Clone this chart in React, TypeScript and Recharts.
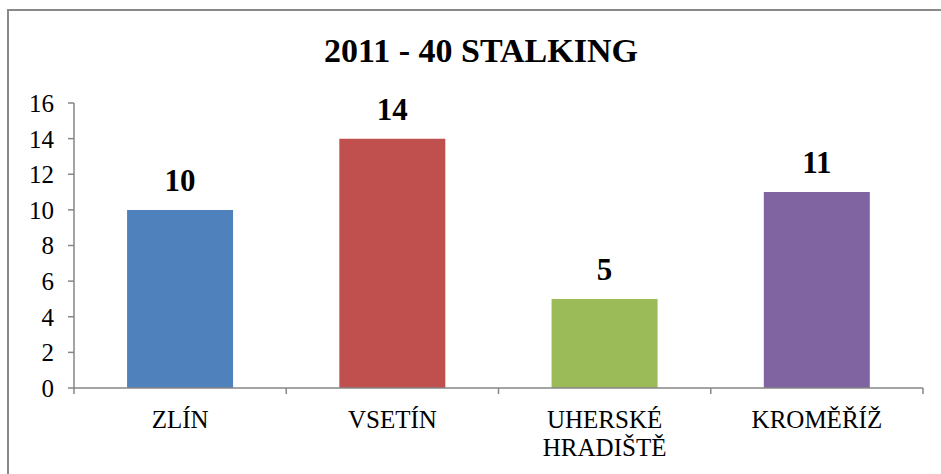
import React from "react";
import { BarChart, Bar, XAxis, YAxis, Cell, LabelList } from "recharts";

const categories = ["ZLÍN", "VSETÍN", "UHERSKÉ HRADIŠTĚ", "KROMĚŘÍŽ"];
const values = [10, 14, 5, 11];
const colors = ["#4F81BD", "#C0504D", "#9BBB59", "#8064A2"];
const yTicks = [0, 2, 4, 6, 8, 10, 12, 14, 16];
const title = "2011 - 40 STALKING";

const data = categories.map((name, i) => ({ name, value: values[i] }));

const FONT = "Liberation Serif, Tinos, Times New Roman, serif";
const AXIS = "#868686";
const TICK_SIZE = 6;
const TICK_MARGIN = 8;

const CategoryTick = (props: any) => {
  const { x, y, payload, index, visibleTicksCount } = props;
  const half = payload && payload.offset ? payload.offset : 106;
  const axisY = y - TICK_SIZE - TICK_MARGIN;
  const words = String(payload.value).split(" ");
  const isLast = index === visibleTicksCount - 1;
  return (
    <g>
      <line x1={x - half} y1={axisY} x2={x - half} y2={axisY + TICK_SIZE} stroke={AXIS} strokeWidth={1.5} />
      {isLast && (
        <line x1={x + half} y1={axisY} x2={x + half} y2={axisY + TICK_SIZE} stroke={AXIS} strokeWidth={1.5} />
      )}
      <text x={x} y={y} textAnchor="middle" fill="#000" fontFamily={FONT} fontSize={25}>
        {words.map((w, i) => (
          <tspan key={i} x={x} dy={i === 0 ? 26 : 28}>
            {w}
          </tspan>
        ))}
      </text>
    </g>
  );
};

export default function App() {
  return (
    <div style={{ position: "fixed", left: 0, top: 0, width: 941, height: 474, overflow: "hidden", background: "#fff" }}>
      <div
        style={{
          position: "absolute",
          left: 7,
          top: 9,
          width: 960,
          height: 500,
          border: "2px solid #898989",
          boxSizing: "border-box",
        }}
      />
      <div style={{ position: "absolute", left: 0, top: 0 }}>
        <BarChart
          width={941}
          height={474}
          data={data}
          margin={{ top: 103, right: 18, left: 14, bottom: 0 }}
          barCategoryGap="25%"
        >
          <XAxis
            dataKey="name"
            height={86}
            axisLine={{ stroke: AXIS, strokeWidth: 1.5 }}
            tickLine={false}
            tickSize={TICK_SIZE}
            tickMargin={TICK_MARGIN}
            tick={<CategoryTick />}
            interval={0}
          />
          <YAxis
            width={60}
            domain={[0, 16]}
            ticks={yTicks}
            interval={0}
            axisLine={{ stroke: AXIS, strokeWidth: 1.5 }}
            tickLine={{ stroke: AXIS, strokeWidth: 1.5 }}
            tickSize={6}
            tickMargin={14}
            tick={{ fill: "#000", fontFamily: FONT, fontSize: 25 }}
          />
          <Bar dataKey="value" isAnimationActive={false}>
            {data.map((d, i) => (
              <Cell key={d.name} fill={colors[i]} />
            ))}
            <LabelList
              dataKey="value"
              position="top"
              offset={19}
              fill="#000"
              fontFamily={FONT}
              fontSize={31}
              fontWeight="bold"
            />
          </Bar>
        </BarChart>
      </div>
      <svg width={941} height={474} style={{ position: "absolute", left: 0, top: 0, pointerEvents: "none" }}>
        <text x={481} y={62} textAnchor="middle" fill="#000" fontFamily={FONT} fontSize={34} fontWeight="bold">
          {title}
        </text>
      </svg>
    </div>
  );
}
